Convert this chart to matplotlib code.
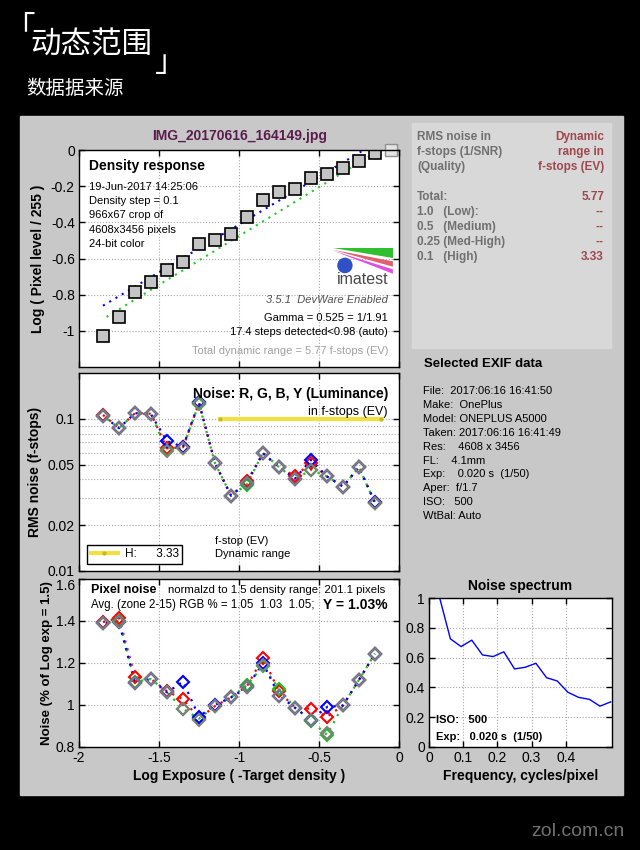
import matplotlib
matplotlib.use("Agg")
import matplotlib.pyplot as plt
import numpy as np
from matplotlib.patches import Rectangle, Polygon, Ellipse
from matplotlib.lines import Line2D

W, H = 640, 850
plt.rcParams['font.family'] = ['Liberation Sans', 'DejaVu Sans']

# ---- data ----
# density response (Log exposure vs Log pixel level)
dens_x = [-1.85, -1.75, -1.65, -1.55, -1.45, -1.35, -1.25, -1.15, -1.05, -0.95,
          -0.85, -0.75, -0.65, -0.55, -0.45, -0.35, -0.25, -0.15, -0.05]
dens_y = [-1.028, -0.922, -0.785, -0.728, -0.663, -0.619, -0.522, -0.500, -0.467, -0.372,
          -0.278, -0.235, -0.213, -0.157, -0.130, -0.102, -0.063, -0.019, 0.0]
fit_blue_x = [-1.85, -0.22]
fit_blue_y = [-0.861, 0.0]
fit_green_x = [-1.85, -0.12, -0.05]
fit_green_y = [-0.935, 0.0, 0.0]

# noise in f-stops
noise_x = dens_x[:18]
noise_y = [0.1046, 0.0868, 0.109, 0.107, 0.0619, 0.0645, 0.127, 0.0511, 0.0313, 0.0378,
           0.0594, 0.0481, 0.0401, 0.0462, 0.0418, 0.0359, 0.0481, 0.0279]
noise_r = [0.106, 0.087, 0.109, 0.108, 0.064, 0.065, 0.127, 0.0511, 0.0313, 0.039,
           0.0594, 0.0481, 0.0421, 0.0511, 0.0418, 0.0359, 0.0481, 0.0279]
noise_g = [0.1046, 0.0868, 0.109, 0.107, 0.062, 0.0645, 0.126, 0.0511, 0.0313, 0.037,
           0.060, 0.0481, 0.0401, 0.0462, 0.0418, 0.0359, 0.0481, 0.0279]
noise_b = [0.1046, 0.0868, 0.109, 0.107, 0.0713, 0.0655, 0.128, 0.0511, 0.0313, 0.038,
           0.0594, 0.0481, 0.0405, 0.0537, 0.0418, 0.0359, 0.0481, 0.0282]
dr_high_x = [-1.12, -0.11]
dr_high_y = [0.1, 0.1]

# pixel noise (% of Log exp = 1.5)
pix_y = [1.391, 1.394, 1.105, 1.124, 1.06, 0.982, 0.928, 0.995, 1.036, 1.084,
         1.189, 1.044, 0.987, 0.928, 0.866, 0.998, 1.12, 1.245]
pix_r = [1.395, 1.415, 1.133, 1.124, 1.065, 1.028, 0.935, 0.995, 1.036, 1.09,
         1.225, 1.065, 0.987, 0.982, 0.944, 0.998, 1.12, 1.245]
pix_g = [1.391, 1.40, 1.11, 1.124, 1.06, 0.982, 0.935, 0.995, 1.036, 1.095,
         1.185, 1.076, 0.987, 0.925, 0.858, 0.998, 1.12, 1.245]
pix_b = [1.391, 1.394, 1.105, 1.124, 1.06, 1.111, 0.945, 1.0, 1.036, 1.084,
         1.20, 1.044, 0.987, 0.93, 0.99, 0.998, 1.12, 1.245]

# noise spectrum
spec_f = [k / 32 for k in range(1, 18)]
spec_v = [1.0, 0.726, 0.674, 0.717, 0.618, 0.607, 0.639, 0.524, 0.535, 0.562,
          0.465, 0.443, 0.367, 0.333, 0.320, 0.274, 0.303]

exif_lines = ["File:  2017:06:16 16:41:50", "Make:  OnePlus", "Model: ONEPLUS A5000",
              "Taken: 2017:06:16 16:41:49", "Res:    4608 x 3456", "FL:    4.1mm",
              "Exp:    0.020 s  (1/50)", "Aper:  f/1.7", "ISO:   500", "WtBal: Auto"]
table_left = ["Total:", "1.0   (Low):", "0.5   (Medium)", "0.25 (Med-High)", "0.1   (High)"]
table_right = ["5.77", "--", "--", "--", "3.33"]

fig = plt.figure(figsize=(W / 100, H / 100), dpi=100, facecolor='black')


def rect(x0, y0, x1, y1):
    return [x0 / W, 1 - y1 / H, (x1 - x0) / W, (y1 - y0) / H]


def ftext(x, y, s, **kw):
    kw.setdefault('va', 'center')
    return fig.text(x / W, 1 - y / H, s, **kw)


# gray panel and table box (behind the axes)
fig.patches.append(Rectangle((20 / W, 1 - 795 / H), 603 / W, 679 / H,
                             transform=fig.transFigure, color='#c8c8c8', zorder=-10))
fig.patches.append(Rectangle((412 / W, 1 - 348 / H), 199 / W, 225 / H,
                             transform=fig.transFigure, color='#d8d8d8', zorder=-9))

# header
cjk = ['Noto Sans CJK SC']
ftext(4, 29, "「", color='white', fontsize=22, family=cjk)
ftext(30, 45, "动态范围", color='white', fontsize=22, family=cjk)
ftext(155, 63, "」", color='white', fontsize=22, family=cjk)
ftext(26, 89, "数据据来源", color='white', fontsize=14, family=cjk)
ftext(624, 832, "zol.com.cn", color='#707070', fontsize=14, ha='right',
      family=['Liberation Sans'])

grid_kw = dict(color='#a8a8a8', linestyle=':', linewidth=0.8)


def style_ax(ax):
    ax.set_facecolor('white')
    ax.tick_params(direction='in', top=True, right=True, length=4, width=1,
                   labelsize=10, pad=3)
    ax.tick_params(which='minor', length=0)
    for s in ax.spines.values():
        s.set_linewidth(1)
    ax.set_axisbelow(True)


# ---- density response ----
ax1 = fig.add_axes(rect(79, 150, 399, 367))
style_ax(ax1)
ax1.plot(fit_blue_x, fit_blue_y, color='blue', linestyle=(0, (1, 2.5)), lw=1.5)
ax1.plot(fit_green_x, fit_green_y, color='#22cc22', linestyle=(1.5, (1, 2.5)), lw=1.5)
ax1.plot(dens_x[:-1], dens_y[:-1], 's', ms=8.5, mfc='#c4c4c4', mec='black', mew=1.2)
ax1.plot(dens_x[-1:], dens_y[-1:], 's', ms=8.5, mfc='#e4e4e4', mec='#909090', mew=1,
         clip_on=False)
ax1.set_xlim(-2, 0)
ax1.set_ylim(-1.2, 0)
ax1.set_xticks([-2, -1.5, -1, -0.5, 0])
ax1.set_xticklabels([])
ax1.set_yticks([-1, -0.8, -0.6, -0.4, -0.2, 0])
ax1.set_yticklabels(['-1', '-0.8', '-0.6', '-0.4', '-0.2', '0'])
ax1.grid(True, **grid_kw)
ax1.set_ylabel("Log ( Pixel level / 255 )", fontsize=10, fontweight='bold', labelpad=4)

# imatest logo
ax1.add_patch(Polygon([(0.794, 0.548), (0.981, 0.548), (0.981, 0.502)],
                      transform=ax1.transAxes, color='#2fbf2f', lw=0))
ax1.add_patch(Polygon([(0.794, 0.540), (0.981, 0.487), (0.981, 0.462)],
                      transform=ax1.transAxes, color='#e06070', lw=0))
ax1.add_patch(Polygon([(0.794, 0.536), (0.981, 0.450), (0.981, 0.430)],
                      transform=ax1.transAxes, color='#e050e0', lw=0))
ax1.add_patch(Ellipse((0.831, 0.468), 0.048, 0.072, transform=ax1.transAxes,
                      color='#3050c8', lw=0))
ax1.text(0.885, 0.405, "imatest", transform=ax1.transAxes, ha='center', va='center',
         fontsize=11.5, color='#484848')

ftext(240, 136, "IMG_20170616_164149.jpg", ha='center', fontsize=10,
      fontweight='bold', color='#5a1d4d')
ftext(89, 166, "Density response", fontsize=10, fontweight='bold')
info = ["19-Jun-2017 14:25:06", "Density step = 0.1", "966x67 crop of",
        "4608x3456 pixels", "24-bit color"]
for i, s in enumerate(info):
    ftext(89, 187 + 14.2 * i, s, fontsize=8)
ftext(388, 300, "3.5.1  DevWare Enabled", ha='right', fontsize=8, style='italic',
      color='#505050')
ftext(388, 318, "Gamma = 0.525 = 1/1.91", ha='right', fontsize=8)
ftext(388, 332, "17.4 steps detected<0.98 (auto)", ha='right', fontsize=8)
ftext(388, 351, "Total dynamic range = 5.77 f-stops (EV)", ha='right', fontsize=8,
      color='#a0a0a0')

# ---- noise in f-stops ----
ax2 = fig.add_axes(rect(79, 373, 399, 571))
style_ax(ax2)
ax2.set_yscale('log')
for ys, c, off in [(noise_r, 'red', 0), (noise_g, '#20c020', 1.2), (noise_b, 'blue', 2.4)]:
    ax2.plot(noise_x, ys, color=c, linestyle=(off, (1, 2.6)), lw=1.6)
for ys, c in [(noise_r, 'red'), (noise_g, '#20c020'), (noise_b, 'blue')]:
    ax2.plot(noise_x, ys, 'D', ms=6, mfc='none', mec=c, mew=1.5)
ax2.plot(noise_x, noise_y, 'D', ms=6, mfc='none', mec='#808080', mew=1.5)
hline, = ax2.plot(dr_high_x, dr_high_y, color='#f2e040', lw=3, marker='.', ms=4,
                  mfc='#c8b820', mec='#c8b820')
ax2.set_xlim(-2, 0)
ax2.set_ylim(0.01, 0.2)
ax2.set_xticks([-2, -1.5, -1, -0.5, 0])
ax2.set_xticklabels([])
ax2.set_yticks([0.01, 0.02, 0.05, 0.1])
ax2.set_yticklabels(['0.01', '0.02', '0.05', '0.1'])
ax2.set_yticks([0.03, 0.04, 0.06, 0.07, 0.08, 0.09], minor=True)
ax2.set_yticklabels([], minor=True)
ax2.grid(True, which='both', **grid_kw)
ax2.set_ylabel("RMS noise (f-stops)", fontsize=10, fontweight='bold', labelpad=4)
leg = ax2.legend([hline], ["H:      3.33"], loc='lower left',
                 bbox_to_anchor=((87 - 79) / 320, (571 - 564) / 198),
                 borderaxespad=0, fancybox=False, edgecolor='black', framealpha=1,
                 fontsize=8.5, handlelength=2.3, handletextpad=0.6, borderpad=0.3)
leg.get_frame().set_linewidth(1)
ftext(388, 394, "Noise: R, G, B, Y (Luminance)", ha='right', fontsize=10,
      fontweight='bold')
ftext(388, 412, "in f-stops (EV)", ha='right', fontsize=9)
ftext(215, 541, "f-stop (EV)", fontsize=8)
ftext(215, 554, "Dynamic range", fontsize=8)

# ---- pixel noise ----
ax3 = fig.add_axes(rect(79, 579, 399, 747))
style_ax(ax3)
for ys, c, off in [(pix_r, 'red', 0), (pix_g, '#20c020', 1.2), (pix_b, 'blue', 2.4)]:
    ax3.plot(noise_x, ys, color=c, linestyle=(off, (1, 2.6)), lw=1.6)
for ys, c in [(pix_r, 'red'), (pix_g, '#20c020'), (pix_b, 'blue')]:
    ax3.plot(noise_x, ys, 'D', ms=6, mfc='none', mec=c, mew=1.5)
ax3.plot(noise_x, pix_y, 'D', ms=6, mfc='none', mec='#808080', mew=1.5)
ax3.set_xlim(-2, 0)
ax3.set_ylim(0.8, 1.6)
ax3.set_xticks([-2, -1.5, -1, -0.5, 0])
ax3.set_xticklabels(['-2', '-1.5', '-1', '-0.5', '0'])
ax3.set_yticks([0.8, 1.0, 1.2, 1.4, 1.6])
ax3.set_yticklabels(['0.8', '1', '1.2', '1.4', '1.6'])
ax3.get_yticklabels()[-1].set_va('top')
ax3.grid(True, **grid_kw)
ax3.set_ylabel("Noise (% of Log exp = 1.5)", fontsize=9.5, fontweight='bold', labelpad=2)
ax3.set_xlabel("Log Exposure ( -Target density )", fontsize=10, fontweight='bold',
               labelpad=3)
ftext(91, 590, "Pixel noise", fontsize=9, fontweight='bold')
ftext(168, 590, "normalzd to 1.5 density range: 201.1 pixels", fontsize=8.2)
ftext(91, 605, "Avg. (zone 2-15) RGB % = 1.05  1.03  1.05;", fontsize=8.3)
ftext(388, 605, "Y = 1.03%", ha='right', fontsize=10, fontweight='bold')

# ---- noise spectrum ----
ax4 = fig.add_axes(rect(429, 598, 612, 747))
style_ax(ax4)
ax4.plot(spec_f, spec_v, color='blue', lw=1)
ax4.set_xlim(0, 0.535)
ax4.set_ylim(0, 1)
ax4.set_xticks([0, 0.1, 0.2, 0.3, 0.4])
ax4.set_xticklabels(['0', '0.1', '0.2', '0.3', '0.4'])
ax4.set_yticks([0, 0.2, 0.4, 0.6, 0.8, 1.0])
ax4.set_yticklabels(['0', '0.2', '0.4', '0.6', '0.8', '1'])
ax4.grid(True, **grid_kw)
ax4.set_title("Noise spectrum", fontsize=10, fontweight='bold', pad=6)
ax4.set_xlabel("Frequency, cycles/pixel", fontsize=10, fontweight='bold', labelpad=3)
ftext(436, 720, "ISO:   500", fontsize=8, fontweight='bold')
ftext(436, 737, "Exp:   0.020 s  (1/50)", fontsize=8, fontweight='bold')

# ---- RMS noise table ----
gray_t = '#707070'
red_t = '#a04850'
for i, (l, r) in enumerate([("RMS noise in", "Dynamic"),
                            ("f-stops (1/SNR)", "range in"),
                            ("(Quality)", "f-stops (EV)")]):
    ftext(417, 137 + 15 * i, l, fontsize=8.5, fontweight='bold', color=gray_t)
    ftext(604, 137 + 15 * i, r, fontsize=8.5, fontweight='bold', color=red_t, ha='right')
for i, (l, r) in enumerate(zip(table_left, table_right)):
    ftext(417, 197 + 15 * i, l, fontsize=8.5, fontweight='bold', color=gray_t)
    ftext(604, 197 + 15 * i, r, fontsize=8.5, fontweight='bold', color=red_t, ha='right')

# ---- EXIF ----
ftext(424, 364, "Selected EXIF data", fontsize=9.5, fontweight='bold')
for i, s in enumerate(exif_lines):
    ftext(423, 391 + 13.9 * i, s, fontsize=8)

fig.savefig("out.png", dpi=100, facecolor='black')
